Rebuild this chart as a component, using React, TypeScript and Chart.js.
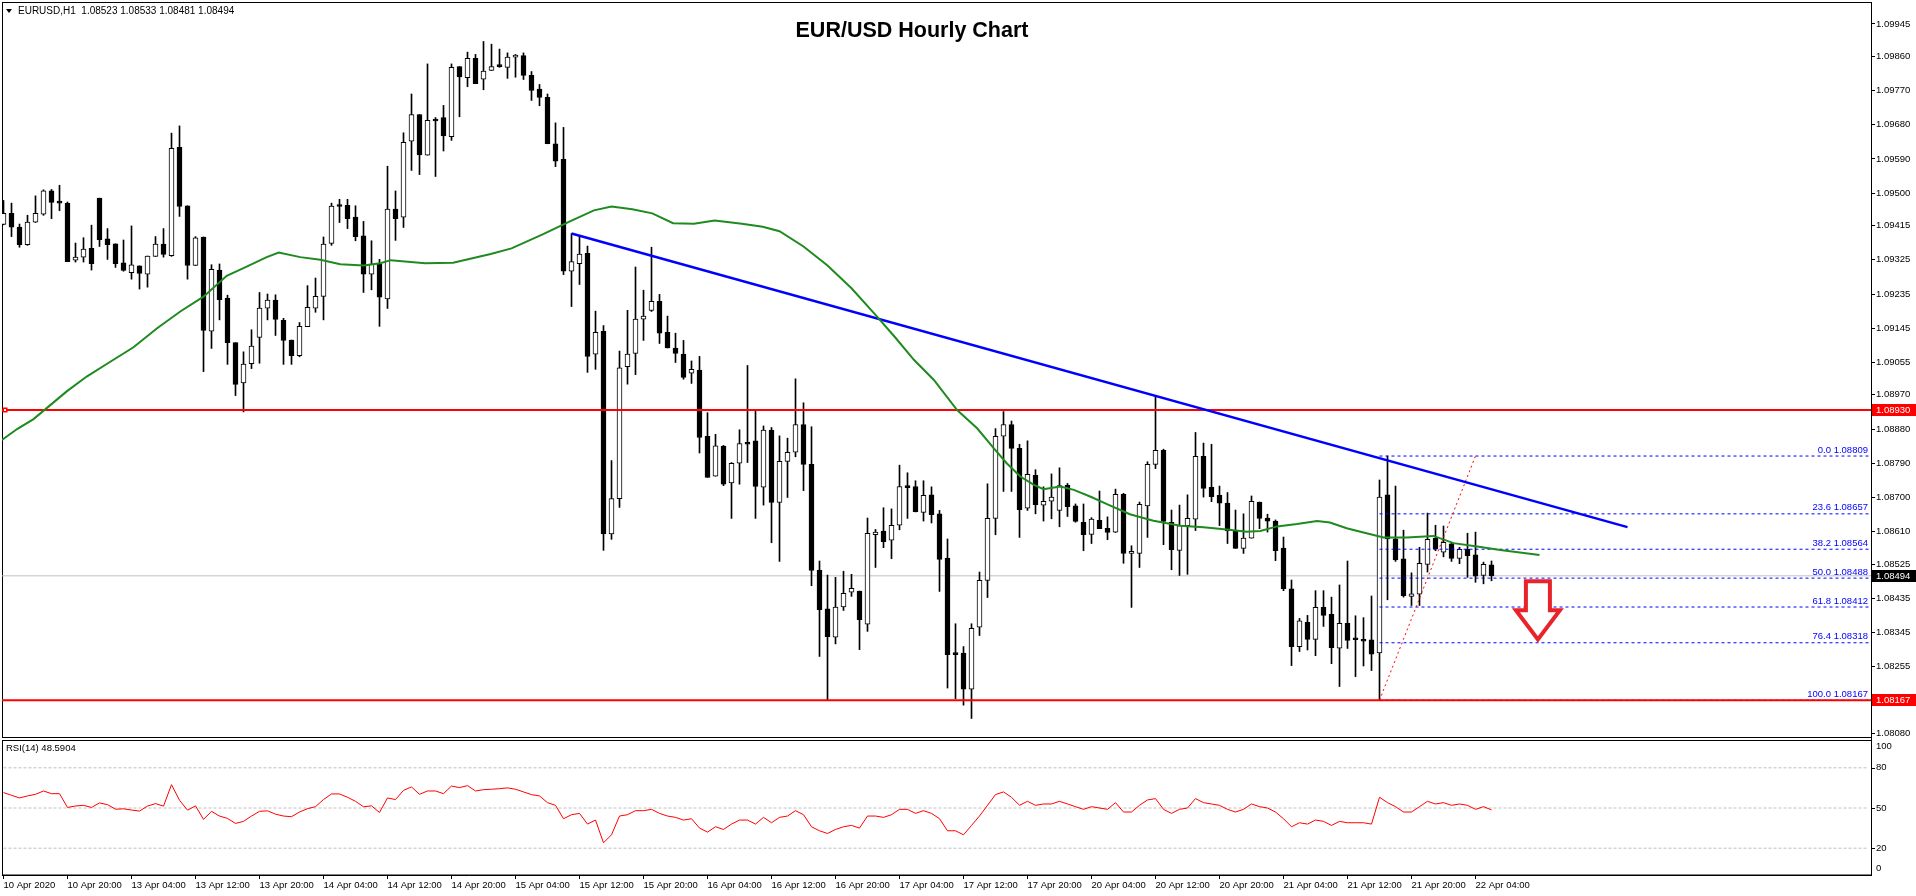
import React, { useEffect, useRef } from "react";
import { Chart, registerables } from "chart.js";
Chart.register(...registerables);

// ---------- DATA ----------
const opens = [1.09418,1.09447,1.09411,1.09365,1.09424,1.09445,1.09506,1.09477,1.09474,1.09324,1.09332,1.09355,1.09487,1.09380,1.09367,1.09317,1.09291,1.09309,1.09287,1.09334,1.09366,1.09336,1.09621,1.09467,1.09310,1.09385,1.09137,1.09298,1.09224,1.09107,1.09001,1.09052,1.09121,1.09198,1.09219,1.09166,1.09114,1.09073,1.09149,1.09198,1.09229,1.09368,1.09468,1.09468,1.09437,1.09388,1.09287,1.09313,1.09222,1.09458,1.09437,1.09637,1.09707,1.09600,1.09692,1.09699,1.09649,1.09833,1.09804,1.09855,1.09800,1.09823,1.09837,1.09831,1.09858,1.09862,1.09810,1.09774,1.09752,1.09630,1.09589,1.09295,1.09315,1.09342,1.09077,1.09137,1.08604,1.08697,1.09044,1.09079,1.09169,1.09192,1.09216,1.09134,1.09093,1.09077,1.09027,1.09035,1.08861,1.08756,1.08835,1.08738,1.08790,1.08842,1.08849,1.08727,1.08877,1.08687,1.08795,1.08819,1.08892,1.08787,1.08509,1.08407,1.08333,1.08412,1.08451,1.08454,1.08367,1.08602,1.08612,1.08588,1.08627,1.08729,1.08729,1.08661,1.08707,1.08657,1.08541,1.08291,1.08291,1.08196,1.08359,1.08482,1.08645,1.08861,1.08892,1.08829,1.08672,1.08758,1.08680,1.08690,1.08666,1.08732,1.08678,1.08635,1.08603,1.08640,1.08619,1.08609,1.08708,1.08553,1.08553,1.08678,1.08787,1.08824,1.08635,1.08561,1.08626,1.08643,1.08808,1.08727,1.08706,1.08685,1.08612,1.08566,1.08593,1.08688,1.08646,1.08638,1.08567,1.08460,1.08308,1.08372,1.08327,1.08411,1.08393,1.08304,1.08369,1.08328,1.08323,1.08326,1.08291,1.08707,1.08591,1.08539,1.08440,1.08446,1.08524,1.08593,1.08556,1.08578,1.08540,1.08564,1.08549,1.08495,1.08523];
const highs = [1.09481,1.09474,1.09419,1.09442,1.09493,1.09509,1.09510,1.09521,1.09477,1.09369,1.09383,1.09416,1.09487,1.09407,1.09367,1.09377,1.09414,1.09309,1.09335,1.09386,1.09407,1.09658,1.09677,1.09467,1.09386,1.09385,1.09312,1.09314,1.09232,1.09107,1.09083,1.09141,1.09239,1.09235,1.09233,1.09171,1.09114,1.09160,1.09257,1.09277,1.09385,1.09474,1.09484,1.09484,1.09467,1.09426,1.09375,1.09326,1.09571,1.09506,1.09659,1.09761,1.09707,1.09840,1.09699,1.09731,1.09840,1.09833,1.09871,1.09865,1.09899,1.09892,1.09879,1.09869,1.09865,1.09869,1.09820,1.09786,1.09761,1.09685,1.09673,1.09394,1.09387,1.09361,1.09190,1.09152,1.08797,1.09085,1.09192,1.09306,1.09245,1.09358,1.09234,1.09177,1.09132,1.09113,1.09059,1.09071,1.08923,1.08866,1.08837,1.08792,1.08878,1.09047,1.08930,1.08888,1.08884,1.08862,1.08856,1.09012,1.08949,1.08886,1.08533,1.08496,1.08490,1.08506,1.08498,1.08454,1.08646,1.08616,1.08673,1.08670,1.08785,1.08765,1.08744,1.08744,1.08728,1.08666,1.08591,1.08368,1.08308,1.08368,1.08504,1.08736,1.08881,1.08926,1.08901,1.08840,1.08849,1.08773,1.08728,1.08762,1.08778,1.08737,1.08683,1.08683,1.08647,1.08717,1.08649,1.08722,1.08711,1.08573,1.08688,1.08794,1.08967,1.08827,1.08667,1.08680,1.08707,1.08871,1.08843,1.08840,1.08730,1.08713,1.08667,1.08657,1.08704,1.08688,1.08656,1.08641,1.08596,1.08483,1.08382,1.08390,1.08455,1.08455,1.08438,1.08470,1.08533,1.08389,1.08384,1.08441,1.08746,1.08809,1.08730,1.08614,1.08502,1.08569,1.08659,1.08627,1.08625,1.08581,1.08569,1.08606,1.08609,1.08530,1.08533];
const lows = [1.09417,1.09386,1.09358,1.09363,1.09423,1.09442,1.09433,1.09454,1.09320,1.09319,1.09319,1.09298,1.09360,1.09326,1.09305,1.09295,1.09274,1.09248,1.09253,1.09334,1.09332,1.09334,1.09439,1.09274,1.09310,1.09031,1.09092,1.09167,1.09050,1.08968,1.08925,1.09039,1.09053,1.09167,1.09126,1.09050,1.09050,1.09070,1.09149,1.09187,1.09167,1.09363,1.09423,1.09407,1.09375,1.09239,1.09246,1.09150,1.09197,1.09376,1.09410,1.09560,1.09549,1.09600,1.09544,1.09611,1.09639,1.09701,1.09780,1.09788,1.09772,1.09823,1.09831,1.09802,1.09805,1.09799,1.09744,1.09730,1.09630,1.09570,1.09286,1.09202,1.09260,1.09029,1.09037,1.08561,1.08590,1.08674,1.08998,1.09023,1.09113,1.09189,1.09105,1.09093,1.09055,1.09011,1.09000,1.08817,1.08753,1.08756,1.08731,1.08645,1.08735,1.08792,1.08645,1.08680,1.08581,1.08532,1.08700,1.08807,1.08718,1.08468,1.08282,1.08168,1.08315,1.08403,1.08440,1.08300,1.08348,1.08516,1.08568,1.08539,1.08615,1.08645,1.08662,1.08638,1.08633,1.08453,1.08199,1.08171,1.08154,1.08119,1.08337,1.08437,1.08602,1.08716,1.08716,1.08595,1.08666,1.08657,1.08638,1.08644,1.08623,1.08650,1.08635,1.08560,1.08579,1.08618,1.08589,1.08608,1.08527,1.08411,1.08516,1.08595,1.08776,1.08576,1.08510,1.08495,1.08498,1.08613,1.08701,1.08689,1.08626,1.08579,1.08566,1.08553,1.08593,1.08618,1.08609,1.08534,1.08455,1.08258,1.08295,1.08299,1.08284,1.08361,1.08263,1.08203,1.08303,1.08229,1.08257,1.08245,1.08167,1.08431,1.08532,1.08438,1.08416,1.08416,1.08504,1.08560,1.08544,1.08532,1.08526,1.08490,1.08477,1.08473,1.08481];
const closes = [1.09447,1.09411,1.09365,1.09424,1.09447,1.09506,1.09476,1.09474,1.09320,1.09332,1.09353,1.09315,1.09378,1.09365,1.09315,1.09297,1.09312,1.09289,1.09335,1.09366,1.09339,1.09618,1.09465,1.09310,1.09383,1.09139,1.09300,1.09220,1.09107,1.08997,1.09051,1.09098,1.09198,1.09219,1.09168,1.09113,1.09073,1.09150,1.09200,1.09229,1.09366,1.09466,1.09465,1.09433,1.09386,1.09287,1.09314,1.09227,1.09458,1.09433,1.09634,1.09707,1.09601,1.09692,1.09690,1.09651,1.09831,1.09806,1.09855,1.09788,1.09821,1.09833,1.09833,1.09858,1.09860,1.09810,1.09770,1.09752,1.09630,1.09584,1.09295,1.09320,1.09340,1.09071,1.09134,1.08604,1.08697,1.09041,1.09077,1.09169,1.09177,1.09216,1.09132,1.09093,1.09079,1.09016,1.09037,1.08858,1.08753,1.08836,1.08735,1.08790,1.08842,1.08840,1.08729,1.08877,1.08687,1.08795,1.08819,1.08892,1.08787,1.08508,1.08405,1.08334,1.08412,1.08448,1.08461,1.08379,1.08606,1.08609,1.08584,1.08627,1.08729,1.08726,1.08663,1.08706,1.08655,1.08537,1.08287,1.08287,1.08196,1.08356,1.08482,1.08645,1.08861,1.08892,1.08829,1.08668,1.08761,1.08681,1.08690,1.08701,1.08731,1.08676,1.08637,1.08602,1.08643,1.08618,1.08608,1.08708,1.08553,1.08555,1.08682,1.08787,1.08824,1.08637,1.08563,1.08626,1.08645,1.08808,1.08724,1.08702,1.08685,1.08612,1.08566,1.08593,1.08690,1.08645,1.08638,1.08560,1.08460,1.08308,1.08376,1.08327,1.08411,1.08390,1.08305,1.08369,1.08324,1.08326,1.08322,1.08288,1.08701,1.08591,1.08536,1.08442,1.08447,1.08527,1.08590,1.08564,1.08582,1.08540,1.08564,1.08547,1.08493,1.08524,1.08494];

const rsiValues = [61.5,59.5,57.5,59,60.2,62.7,60.7,60.7,50.4,51.5,52,50.4,53.8,52.5,49.1,49.4,48.5,47.7,51.4,53.3,51.4,67.4,55.8,48.4,51.6,41.5,47.5,44,42.2,38.5,40,44,47.5,47.9,45.4,44,43.5,47,49.5,51,56.3,60.5,60.5,58,55,50.9,51.6,46.7,57.5,56.3,63.2,65.7,60.2,62.7,62.7,60.7,66.4,65.2,66.7,62.7,63.7,64,64.4,65,64,62,60,59,54,52,42,45,46,38,41,24,30,44,45,48,48,49,46,44,43,41,42,35,32,36,34,38,41,41,38,43,39,43,44,48,45,36,33,31,34,36,37,35,44,44,43,45,49,49,46,48,46,42,33,33,30,37,44,52,60,62,58,52,55,52,53,53,55,53,51,49,51,50,49,54,47,47,52,56,57,49,46,49,50,57,54,53,52,49,47,49,53,51,50,47,42,36,39,38,41,40,37,40,39,39,39,38,58,54,51,47,47,51,55,53,54,52,53,52,49,51,48.59];

const maBars = [-0.2,1.7,3.75,5.4,7.9,10.4,12.9,16.25,19.2,22.1,25,27.9,30,32.9,34.4,37.1,39.6,42.1,45,47.1,48.4,52.7,56.2,60.9,63.5,67.4,70.8,73.8,76,78.6,81.1,83.7,86.3,88.9,92.3,94.9,97,100,103,106,109,111.5,113.8,116.3,119.2,121.7,123.8,125.4,127.1,128.8,130,132.1,133.8,135.9,138,140.8,143.75,147.1,150,152.9,155.4,157.1,159.2,161.7,164.2,165.8,167.9,170,172.5,175.4,178.75,181.25,184.2,187.1,192];
const maValues = [1.08851,1.0888,1.08906,1.08935,1.08979,1.09018,1.09051,1.09095,1.09145,1.09189,1.09228,1.09283,1.09303,1.09332,1.09344,1.09332,1.09325,1.09313,1.0931,1.09316,1.09324,1.09316,1.09317,1.0934,1.09355,1.09392,1.09426,1.09455,1.09465,1.09458,1.09447,1.09421,1.0942,1.09428,1.0942,1.09412,1.094,1.0936,1.0931,1.0925,1.0918,1.0912,1.09062,1.09009,1.0893,1.08882,1.08829,1.0879,1.08755,1.08733,1.08722,1.08729,1.0872,1.08702,1.08682,1.08656,1.08639,1.08626,1.08622,1.08616,1.0861,1.08612,1.08624,1.0863,1.08638,1.08634,1.08619,1.08608,1.08595,1.08595,1.08599,1.0858,1.08571,1.08562,1.08549];

const xTickBars = [0,8,16,24,32,40,48,56,64,72,80,88,96,104,112,120,128,136,144,152,160,168,176,184];
const xTickLabels = ["10 Apr 2020","10 Apr 20:00","13 Apr 04:00","13 Apr 12:00","13 Apr 20:00","14 Apr 04:00","14 Apr 12:00","14 Apr 20:00","15 Apr 04:00","15 Apr 12:00","15 Apr 20:00","16 Apr 04:00","16 Apr 12:00","16 Apr 20:00","17 Apr 04:00","17 Apr 12:00","17 Apr 20:00","20 Apr 04:00","20 Apr 12:00","20 Apr 20:00","21 Apr 04:00","21 Apr 12:00","21 Apr 20:00","22 Apr 04:00"];
const priceTicks = [1.09945,1.0986,1.0977,1.0968,1.0959,1.095,1.09415,1.09325,1.09235,1.09145,1.09055,1.0897,1.0888,1.0879,1.087,1.0861,1.08525,1.08435,1.08345,1.08255,1.0808];
const rsiTickValues = [100,80,50,20,0];
const rsiLevels = [80,50,20];

const fibRatios = ["0.0","23.6","38.2","50.0","61.8","76.4","100.0"];
const fibPrices = [1.08809,1.08657,1.08564,1.08488,1.08412,1.08318,1.08167];
const fibStartBar = 172;
const fibTrendBars = [172,184];
const fibTrendPrices = [1.08167,1.08809];

const trendBars = [71,203];
const trendPrices = [1.09394,1.08622];

const levelPrices = [1.0893,1.08167];
const bidPrice = 1.08494;
const rsiCurrent = "48.5904";
const headerText = "EURUSD,H1  1.08523 1.08533 1.08481 1.08494";
const titleText = "EUR/USD Hourly Chart";

const arrowBar = 191.8;
const arrowTopPrice = 1.0848;
const arrowTipPrice = 1.08327;

// ---------- LAYOUT CONSTANTS ----------
const W = 1916;
const H = 896;
const X_MIN = -0.1875;
const X_MAX = 233.4375;
const P_MIN = 1.077074;
const P_MAX = 1.100028;
const R_MIN = 0;
const R_MAX = 651.5;
const FONT = "'Liberation Sans', Arial, sans-serif";

const overlayPlugin = {
  id: "overlay",
  beforeDraw(chart: any) {
    const { ctx, chartArea: ca } = chart;
    const r = chart.scales.yRsi;
    ctx.save();
    ctx.fillStyle = "#ffffff";
    ctx.fillRect(0, 0, chart.width, chart.height);
    const rsiTop = Math.round(r.getPixelForValue(100)) - 0.5;
    ctx.strokeStyle = "#000";
    ctx.lineWidth = 1;
    ctx.strokeRect(ca.left + 0.5, ca.top + 0.5, ca.right - ca.left, rsiTop - 3 - (ca.top + 0.5));
    ctx.strokeRect(ca.left + 0.5, rsiTop, ca.right - ca.left, ca.bottom - rsiTop);
    ctx.restore();
  },
  afterDraw(chart: any) {
    const { ctx, chartArea: ca } = chart;
    const x = chart.scales.x;
    const y = chart.scales.y;
    const r = chart.scales.yRsi;
    ctx.save();
    // header
    ctx.fillStyle = "#000";
    ctx.beginPath();
    ctx.moveTo(6, 9);
    ctx.lineTo(12, 9);
    ctx.lineTo(9, 13);
    ctx.closePath();
    ctx.fill();
    ctx.font = `10px ${FONT}`;
    ctx.textBaseline = "middle";
    ctx.textAlign = "left";
    ctx.fillText(headerText, 18, 11);
    // title
    ctx.font = `bold 21.5px ${FONT}`;
    ctx.textAlign = "center";
    ctx.fillText(titleText, 912, 31);
    // RSI label
    ctx.font = `9.5px ${FONT}`;
    ctx.textAlign = "left";
    ctx.fillText(`RSI(14) ${rsiCurrent}`, 6, 748);
    // fib labels
    ctx.fillStyle = "#0000ff";
    ctx.textAlign = "right";
    fibPrices.forEach((p, i) => {
      const py = y.getPixelForValue(p);
      ctx.fillText(`${fibRatios[i]} ${p.toFixed(5)}`, ca.right - 3, py - 6);
    });
    // axis boxes
    const box = (p: number, color: string) => {
      const py = Math.round(y.getPixelForValue(p));
      ctx.fillStyle = color;
      ctx.fillRect(ca.right + 1, py - 6, W - ca.right - 1, 12);
      ctx.fillStyle = "#fff";
      ctx.textAlign = "left";
      ctx.fillText(p.toFixed(5), ca.right + 5, py);
    };
    box(levelPrices[0], "#ff0000");
    box(levelPrices[1], "#ff0000");
    box(bidPrice, "#000000");
    // RSI axis labels
    ctx.fillStyle = "#000";
    ctx.strokeStyle = "#000";
    ctx.lineWidth = 1;
    ctx.textAlign = "left";
    rsiTickValues.forEach((v) => {
      let py = r.getPixelForValue(v);
      if (v === 100) py += 5;
      else if (v === 0) py -= 7;
      else {
        const ty = Math.round(py) + 0.5;
        ctx.beginPath();
        ctx.moveTo(ca.right, ty);
        ctx.lineTo(ca.right + 4, ty);
        ctx.stroke();
      }
      ctx.fillText(String(v), ca.right + 5, py);
    });
    // arrow
    const ax = x.getPixelForValue(arrowBar);
    const aTop = y.getPixelForValue(arrowTopPrice);
    const aTip = y.getPixelForValue(arrowTipPrice);
    const shaftW = 12;
    const headW = 22;
    const headBase = aTop + (aTip - aTop) * 0.5;
    ctx.beginPath();
    ctx.moveTo(ax - shaftW, aTop);
    ctx.lineTo(ax + shaftW, aTop);
    ctx.lineTo(ax + shaftW, headBase);
    ctx.lineTo(ax + headW, headBase);
    ctx.lineTo(ax, aTip);
    ctx.lineTo(ax - headW, headBase);
    ctx.lineTo(ax - shaftW, headBase);
    ctx.closePath();
    ctx.fillStyle = "#ffffff";
    ctx.fill();
    ctx.strokeStyle = "#e8232a";
    ctx.lineWidth = 4;
    ctx.lineJoin = "miter";
    ctx.stroke();
    ctx.restore();
  },
};

export default function App() {
  const ref = useRef<HTMLCanvasElement | null>(null);
  useEffect(() => {
    document.body.style.margin = "0";
    const canvas = ref.current;
    if (!canvas) return;
    const n = opens.length;
    const idx = Array.from({ length: n }, (_, i) => i);
    const bodyData = idx.map((i) => ({ x: i, y: [Math.min(opens[i], closes[i]), Math.max(opens[i], closes[i])] }));
    const bodyColors = idx.map((i) => (closes[i] > opens[i] ? "#ffffff" : "#000000"));
    const wickData = idx.map((i) => ({ x: i, y: [lows[i], highs[i]] }));
    const lineDs = (data: any[], color: string, width: number, extra: any = {}) => ({
      type: "line",
      data,
      borderColor: color,
      borderWidth: width,
      pointRadius: 0,
      tension: 0,
      yAxisID: "y",
      order: 0,
      ...extra,
    });
    const datasets: any[] = [
      lineDs(maBars.map((b, i) => ({ x: b, y: maValues[i] })), "#1f8a1f", 2),
      lineDs(trendBars.map((b, i) => ({ x: b, y: trendPrices[i] })), "#0000ff", 2.5),
      lineDs([{ x: X_MIN, y: levelPrices[0] }, { x: 0.19, y: levelPrices[0] }, { x: X_MAX, y: levelPrices[0] }], "#ff0000", 2, {
        pointRadius: [0, 2.5, 0],
        pointStyle: "rect",
        pointBackgroundColor: "#ffffff",
        pointBorderColor: "#ff0000",
        pointBorderWidth: 1.5,
      }),
      lineDs([{ x: X_MIN, y: levelPrices[1] }, { x: X_MAX, y: levelPrices[1] }], "#ff0000", 2),
      lineDs([{ x: X_MIN, y: bidPrice }, { x: X_MAX, y: bidPrice }], "#c0c0c0", 1, { order: 3 }),
      lineDs(fibTrendBars.map((b, i) => ({ x: b, y: fibTrendPrices[i] })), "#ff0000", 1, { borderDash: [2, 3] }),
      ...fibPrices.map((p) =>
        lineDs([{ x: fibStartBar, y: p }, { x: X_MAX, y: p }], "#0000ff", 1, { borderDash: [3, 3], order: 0.5 })
      ),
      {
        type: "bar",
        data: bodyData,
        backgroundColor: bodyColors,
        borderColor: "#000000",
        borderWidth: 1,
        borderSkipped: false,
        barThickness: 5,
        minBarLength: 2,
        grouped: false,
        yAxisID: "y",
        order: 1,
      },
      {
        type: "bar",
        data: wickData,
        backgroundColor: "#000000",
        borderWidth: 0,
        barThickness: 1,
        grouped: false,
        yAxisID: "y",
        order: 2,
      },
      lineDs(rsiValues.map((v, i) => ({ x: i, y: v })), "#ff0000", 1, { yAxisID: "yRsi" }),
      ...rsiLevels.map((v) =>
        lineDs([{ x: 0, y: v }, { x: X_MAX - 0.3, y: v }], "#c0c0c0", 1, { yAxisID: "yRsi", borderDash: [3, 2], order: 3 })
      ),
    ];
    const chart = new Chart(canvas, {
      type: "bar",
      data: { datasets },
      options: {
        responsive: false,
        animation: false,
        devicePixelRatio: 1,
        events: [],
        layout: { padding: { left: 2, top: 2, right: 0, bottom: 0 } },
        plugins: { legend: { display: false }, tooltip: { enabled: false }, title: { display: false } },
        scales: {
          x: {
            type: "linear",
            axis: "x",
            min: X_MIN,
            max: X_MAX,
            position: "bottom",
            offset: false,
            afterFit: (s: any) => {
              s.height = 21;
              s.paddingLeft = 0;
              s.paddingRight = 0;
            },
            afterBuildTicks: (s: any) => {
              s.ticks = xTickBars.map((v) => ({ value: v }));
            },
            ticks: {
              autoSkip: false,
              maxRotation: 0,
              minRotation: 0,
              align: "start",
              padding: 1,
              color: "#000",
              font: { family: FONT, size: 9.5 },
              callback: (_v: any, i: number) => xTickLabels[i],
            },
            grid: { drawOnChartArea: false, drawTicks: true, tickLength: 4, color: "#000", offset: false },
            border: { display: true, color: "#000", width: 1 },
          },
          y: {
            type: "linear",
            axis: "y",
            position: "right",
            min: P_MIN,
            max: P_MAX,
            afterFit: (s: any) => {
              s.width = 45;
              s.paddingTop = 0;
              s.paddingBottom = 0;
            },
            afterBuildTicks: (s: any) => {
              s.ticks = priceTicks.map((v) => ({ value: v }));
            },
            ticks: {
              autoSkip: false,
              padding: 1,
              color: "#000",
              font: { family: FONT, size: 9.5 },
              callback: (v: any) => Number(v).toFixed(5),
            },
            grid: { drawOnChartArea: false, drawTicks: true, tickLength: 4, color: "#000" },
            border: { display: true, color: "#000", width: 1 },
          },
          yRsi: {
            type: "linear",
            axis: "y",
            position: "right",
            display: false,
            min: R_MIN,
            max: R_MAX,
          },
        },
      } as any,
      plugins: [overlayPlugin],
    } as any);
    return () => chart.destroy();
  }, []);
  return (
    <div style={{ width: W, height: H, position: "relative", background: "#fff" }}>
      <canvas ref={ref} width={W} height={H} style={{ display: "block", width: W, height: H }} />
    </div>
  );
}
